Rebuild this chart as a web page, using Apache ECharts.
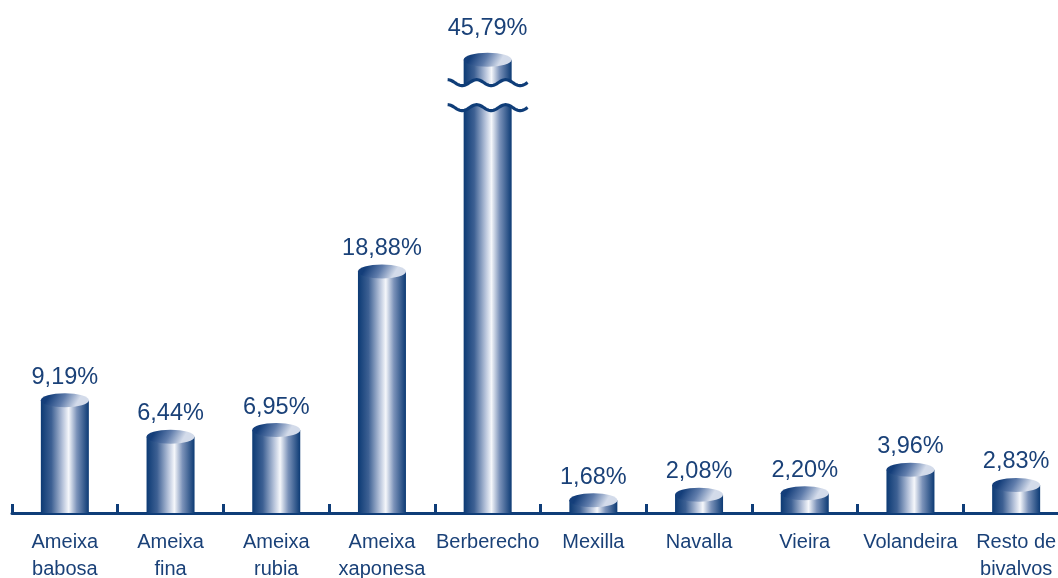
<!DOCTYPE html>
<html>
<head>
<meta charset="utf-8">
<script src="https://cdn.jsdelivr.net/npm/echarts@6/dist/echarts.min.js"></script>
<style>
  html, body { margin: 0; padding: 0; background: #fff; }
  #chart { width: 1058px; height: 578px; }
</style>
</head>
<body>
<div id="chart"></div>
<script>
// categories and shares (%)
const categories = [
  'Ameixa\nbabosa', 'Ameixa\nfina', 'Ameixa\nrubia', 'Ameixa\nxaponesa', 'Berberecho',
  'Mexilla', 'Navalla', 'Vieira', 'Volandeira', 'Resto de\nbivalvos'
];
const values = [9.19, 6.44, 6.95, 18.88, 45.79, 1.68, 2.08, 2.20, 3.96, 2.83];
// bars taller than this are drawn cut with a wavy break
const breakLimit = 30;
const brokenHeight = 34.8;

const navy = '#0f3d78';
const textColor = '#1a4178';
const barW = 48;
const capRy = 7;

const bodyFill = new echarts.graphic.LinearGradient(0, 0, 1, 0, [
  { offset: 0, color: '#0c3a74' },
  { offset: 0.22, color: '#3d6093' },
  { offset: 0.45, color: '#b4c1d9' },
  { offset: 0.58, color: '#f5f7fb' },
  { offset: 0.75, color: '#7b92b9' },
  { offset: 1, color: '#0c3a74' }
]);
const capFill = new echarts.graphic.LinearGradient(0.2, 0, 0.7, 1, [
  { offset: 0, color: '#143e7a' },
  { offset: 0.5, color: '#5f7cab' },
  { offset: 1, color: '#d3dbea' }
]);

const fmt = v => v.toFixed(2).replace('.', ',') + '%';

// wavy line points across [x0, x1] around y
function wave(x0, x1, y, amp, period) {
  const pts = [];
  for (let x = x0; x <= x1 + 0.01; x += 1) {
    pts.push([x, y - amp * Math.cos(2 * Math.PI * (x - x0) / period)]);
  }
  return pts;
}

function renderItem(params, api) {
  const i = api.value(0);
  const v = api.value(1);
  const broken = v > breakLimit;
  const shown = broken ? brokenHeight : v;
  const top = api.coord([i, shown]);
  const baseY = params.coordSys.y + params.coordSys.height;
  const cx = top[0];
  const l = cx - barW / 2, r = cx + barW / 2;
  const capTop = top[1];
  const capC = capTop + capRy;
  const children = [];

  if (!broken) {
    children.push({
      type: 'rect',
      shape: { x: l, y: capC, width: barW, height: baseY - capC },
      style: { fill: bodyFill }
    });
  } else {
    const upY = capTop + 30;
    const loY = capTop + 55;
    const ext = 16, period = 29, amp = 3;
    const upWave = wave(l - ext, r + ext, upY, amp, period);
    const loWave = wave(l - ext, r + ext, loY, amp, period);
    const inBar = pts => pts.filter(p => p[0] >= l && p[0] <= r);
    // upper piece
    const upPts = [[l, capC], [r, capC]].concat(inBar(upWave).reverse());
    children.push({ type: 'polygon', shape: { points: upPts }, style: { fill: bodyFill } });
    // lower piece
    const loPts = inBar(loWave).concat([[r, baseY], [l, baseY]]);
    children.push({ type: 'polygon', shape: { points: loPts }, style: { fill: bodyFill } });
    children.push({ type: 'polyline', shape: { points: upWave }, style: { stroke: navy, lineWidth: 3.2, fill: null } });
    children.push({ type: 'polyline', shape: { points: loWave }, style: { stroke: navy, lineWidth: 3.2, fill: null } });
  }

  children.push({
    type: 'ellipse',
    shape: { cx: cx, cy: capC, rx: barW / 2, ry: capRy },
    style: { fill: capFill }
  });
  children.push({
    type: 'text',
    style: {
      x: cx,
      y: capTop - (broken ? 12 : 4),
      text: fmt(v),
      align: 'center',
      verticalAlign: 'bottom',
      fill: textColor,
      font: '23.5px "Liberation Sans", Arial, sans-serif'
    }
  });
  return { type: 'group', children: children };
}

const chart = echarts.init(document.getElementById('chart'));
chart.setOption({
  animation: false,
  // the last category band runs past the right edge, as in the original
  grid: { left: 12, right: -11, top: 0, bottom: 65, containLabel: false, outerBoundsMode: 'none' },
  xAxis: {
    type: 'category',
    data: categories,
    boundaryGap: true,
    axisLine: { show: true, onZero: false, lineStyle: { color: navy, width: 3 } },
    axisTick: { show: true, inside: true, length: 9, interval: 0, lineStyle: { color: navy, width: 3 } },
    axisLabel: {
      interval: 0,
      margin: 16,
      color: textColor,
      fontSize: 20,
      lineHeight: 27,
      fontFamily: '"Liberation Sans", Arial, sans-serif'
    }
  },
  yAxis: {
    type: 'value',
    // zero sits just under the base line, as in the original
    min: 0.19,
    max: 38.76,
    show: false,
    splitLine: { show: false }
  },
  series: [{
    type: 'custom',
    renderItem: renderItem,
    clip: false,
    data: values.map((v, i) => [i, v])
  }]
});
</script>
</body>
</html>
